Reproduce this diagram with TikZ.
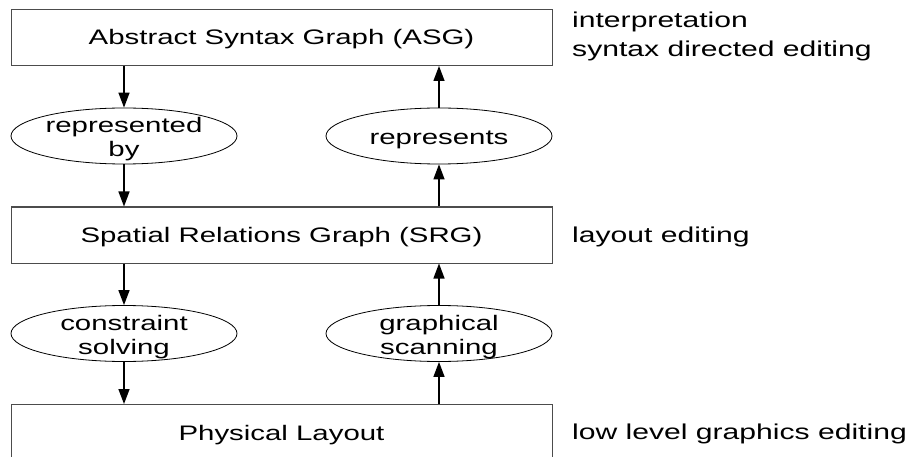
\documentclass[tikz,border=0pt]{standalone}
\usepackage{fontspec}
\setmainfont{Liberation Sans}[FakeStretch=1.4]
\usetikzlibrary{shapes.geometric,arrows.meta}

\begin{document}
\begin{tikzpicture}[x=1pt,y=-1pt,
  every node/.style={font=\fontsize{21}{24}\selectfont, inner sep=0pt},
  layer/.style={draw=black!70, line width=1pt, minimum width=541pt, minimum height=56pt,
    text height=16pt, text depth=1pt},
  oval/.style={ellipse, draw=black, line width=0.8pt, minimum width=226pt, minimum height=56pt},
  inside/.style={align=center, yshift=-3.5pt},
  arr/.style={line width=1.4pt, -{Triangle[length=15pt,width=11pt]}},
  note/.style={anchor=west, align=left, font=\fontsize{21.5}{29}\selectfont}]
\useasboundingbox (0,0) rectangle (907,457);
\clip (0,0) rectangle (907,457);

% the three representation levels
\node[layer] (asg) at (281.5,37.5) {Abstract Syntax Graph (ASG)};
\node[layer] (srg) at (281.5,235) {Spatial Relations Graph (SRG)};
\node[layer] (phys) at (281.5,432.5) {Physical Layout};

% transformations between levels
\node[oval, label={[inside]center:represented\\by}] (rby) at (124,136) {};
\node[oval, label={[inside]center:represents}] (reps) at (439,136) {};
\node[oval, label={[inside]center:constraint\\solving}] (solve) at (124,333.5) {};
\node[oval, label={[inside]center:graphical\\scanning}] (scan) at (439,333.5) {};

% downward flow
\draw[arr] (asg.south -| rby.north) -- (rby.north);
\draw[arr] (rby.south) -- (rby.south |- srg.north);
\draw[arr] (srg.south -| solve.north) -- (solve.north);
\draw[arr] (solve.south) -- (solve.south |- phys.north);

% upward flow
\draw[arr] (phys.north -| scan.south) -- (scan.south);
\draw[arr] (scan.north) -- (scan.north |- srg.south);
\draw[arr] (srg.north -| reps.south) -- (reps.south);
\draw[arr] (reps.north) -- (reps.north |- asg.south);

% editing operations available at each level
\node[note] (opsasg) at (572,36) {interpretation\\syntax directed editing};
\node[note] (opssrg) at (572,237) {layout editing};
\node[note] (opsphys) at (572,434) {low level graphics editing};
\end{tikzpicture}
\end{document}
